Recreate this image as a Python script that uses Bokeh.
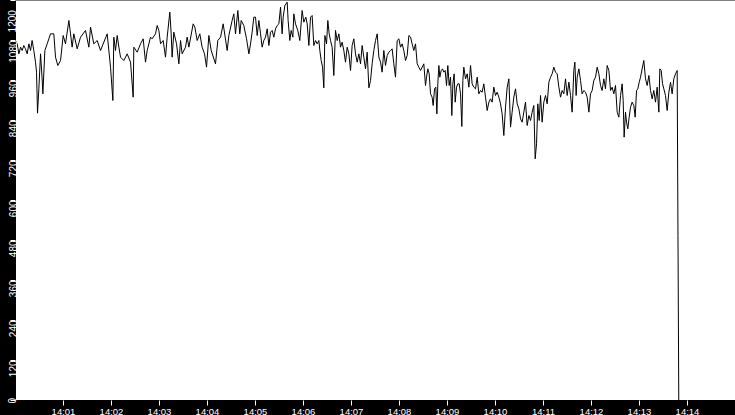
import pandas as pd
from math import pi
from bokeh.plotting import figure
from bokeh.models import (ColumnDataSource, Range1d, FixedTicker, GlobalInlineStyleSheet)
from bokeh.embed import file_html
from bokeh.resources import INLINE

# ---------------- data ----------------
start_time = "2024-01-01 14:00:00"
end_time = "2024-01-01 14:15:00"
x_tick_labels = ["14:01", "14:02", "14:03", "14:04", "14:05", "14:06", "14:07",
                 "14:08", "14:09", "14:10", "14:11", "14:12", "14:13", "14:14"]
y_ticks = [0, 120, 240, 360, 480, 600, 720, 840, 960, 1080, 1200]

# seconds after 14:00:00 and measured values
secs_a = [0, 2.1, 4.2, 6.3, 8.3, 10.4, 12.5, 14.6, 16.7, 18.8,
          20.8, 22.9, 25.0, 26.3, 27.5, 29.2, 31.3, 33.3, 34.2, 36.7,
          39.6, 43.8, 47.9, 50.0, 52.9, 56.3, 59.6, 62.5, 66.7, 68.8,
          70.8, 72.9, 77.1, 81.3, 87.5, 91.7, 93.8, 97.9, 102.1, 106.3,
          114.6, 118.8, 121.7, 122.9, 125.0, 127.1, 129.2, 131.3, 135.4, 139.6,
          143.8, 147.1, 147.9, 152.1, 156.3, 159.6, 162.5, 164.6, 168.8, 170.8,
          175.0, 177.1, 179.2, 181.3, 184.6, 187.5, 189.6, 192.9, 194.6, 195.8,
          197.9, 201.3, 204.2, 206.3, 208.3, 212.5, 214.6, 216.7, 222.1, 224.2,
          227.1, 230.4, 233.3, 236.3, 238.8, 241.7, 244.6, 250.0, 252.9, 256.3,
          259.6, 264.6, 266.7, 270.8, 272.9, 275.0, 277.9, 280.4, 282.1, 285.4,
          288.8, 291.7, 293.8]
vals_a = [1080, 1070, 1040, 1060, 1050, 1065, 1055, 1040, 1070, 1050,
          1080, 1050, 1015, 985, 862, 935, 1040, 965, 920, 1050,
          1070, 1100, 1100, 1030, 1005, 1020, 1095, 1070, 1140, 1100,
          1060, 1100, 1055, 1090, 1110, 1060, 1120, 1070, 1080, 1050,
          1100, 1000, 900, 1090, 1050, 1095, 1060, 1030, 1020, 1040,
          1015, 910, 1060, 1045, 1070, 1085, 1015, 1050, 1090, 1085,
          1100, 1125, 1110, 1070, 1080, 1030, 1090, 1165, 1100, 1030,
          1105, 1070, 1010, 1080, 1040, 1060, 1090, 1060, 1130, 1120,
          1080, 1100, 1060, 1040, 1000, 1095, 1050, 1010, 1080, 1090,
          1130, 1050, 1095, 1140, 1160, 1100, 1170, 1100, 1140, 1125,
          1085, 1040, 1070]

secs_b = [295.8, 297.9, 300.0, 302.1, 304.2, 306.3, 308.3, 310.4, 312.5, 314.6,
          316.7, 318.8, 320.8, 322.9, 325.0, 327.1, 329.2, 331.3, 333.3, 334.6,
          336.7, 339.6, 340.8, 342.9, 344.6, 346.7, 347.9, 350.0, 352.9, 355.4,
          358.3, 360.4, 362.9, 364.6, 366.7, 368.8, 370.8, 372.9, 375.0, 377.1,
          379.2, 380.4, 382.1, 383.8, 385.4, 386.7, 388.8, 390.4, 392.1, 393.8,
          395.8, 397.9, 400.0, 402.1, 404.2, 406.3, 408.3, 410.4, 412.5, 414.6,
          416.7, 418.8, 420.8, 422.9, 425.0, 427.1, 429.2, 431.3, 433.3, 435.4,
          437.5, 439.6, 441.7, 443.8, 445.8, 447.9, 450.0, 452.1, 454.2, 456.3,
          458.3, 460.4, 462.5, 464.6, 466.7, 468.8, 470.8, 472.9, 475.0, 477.1,
          479.2, 481.3, 483.3, 485.4, 487.5, 489.6, 491.7, 493.8, 495.8, 497.9,
          500.0, 502.1, 504.2, 506.3]
vals_b = [1105, 1150, 1150, 1095, 1140, 1100, 1060, 1080, 1090, 1115,
          1065, 1105, 1110, 1090, 1115, 1125, 1130, 1180, 1100, 1150,
          1185, 1195, 1140, 1080, 1110, 1090, 1160, 1130, 1110, 1080,
          1170, 1135, 1150, 1130, 1065, 1150, 1155, 1065, 1080, 1070,
          1080, 1050, 1020, 1000, 938, 1095, 1070, 1140, 1100, 1080,
          1060, 975, 1110, 1080, 1100, 1060, 1075, 1050, 1015, 1060,
          1040, 990, 1065, 1085, 1040, 1015, 1040, 1010, 1065, 1030,
          995, 1045, 938, 960, 1010, 1050, 1080, 1100, 1030, 1015,
          985, 1050, 1005, 1035, 1045, 1050, 1055, 1010, 970, 1080,
          1085, 1060, 1070, 1050, 1020, 1035, 1095, 1090, 1070, 1050,
          1070, 1010, 1000, 990]

secs_c = [510.4, 512.5, 513.8, 515.4, 517.1, 518.8, 520.8, 522.1, 523.8, 525.4,
          526.7, 527.9, 529.2, 530.4, 532.1, 533.8, 535.4, 537.1, 538.8, 540.4,
          542.1, 543.8, 545.4, 546.7, 548.3, 549.6, 551.3, 552.9, 554.6, 556.3,
          557.9, 559.2, 560.4, 562.5, 564.6, 566.7, 568.8, 570.8, 572.9, 575.0,
          577.1, 579.2, 581.3, 583.3, 585.4, 587.5, 589.6, 591.7, 593.8, 595.8,
          597.9, 600.0, 602.1, 604.2, 606.3, 608.3, 610.4, 612.5, 614.6, 616.7,
          618.8, 620.8, 622.9, 625.0, 627.1, 629.2, 631.3, 633.3, 635.4, 637.5,
          639.6, 641.7, 643.8, 645.8, 647.9, 649.6, 651.3, 652.9, 654.6, 656.3,
          658.3, 660.4, 662.5, 664.6, 666.7, 668.8, 670.8, 672.9, 675.0, 677.1,
          679.2, 681.3, 683.3, 685.4, 687.5, 689.6, 691.7, 693.8, 695.8, 697.9,
          699.2, 700.8, 702.1, 704.2, 706.3, 708.3, 710.4, 712.5, 714.6, 716.7,
          718.8]
vals_c = [1010, 945, 970, 995, 980, 920, 910, 885, 935, 940,
          860, 950, 1005, 970, 990, 995, 985, 990, 945, 1005,
          945, 970, 855, 950, 980, 895, 940, 950, 950, 920,
          822, 960, 1000, 965, 980, 940, 1005, 950, 940, 935,
          970, 920, 930, 925, 950, 910, 870, 895, 905, 895,
          940, 915, 925, 910, 890, 860, 795, 880, 940, 965,
          820, 865, 910, 935, 890, 875, 845, 835, 865, 895,
          825, 855, 840, 865, 885, 725, 770, 890, 840, 915,
          835, 895, 915, 890, 955, 970, 980, 1000, 985, 980,
          940, 910, 930, 920, 965, 915, 955, 915, 865, 990,
          1015, 915, 970, 995, 960, 920, 930, 925, 910, 865,
          920]

secs_d = [720.8, 722.9, 725.0, 727.1, 729.2, 731.3, 733.3, 735.4, 737.5, 739.6,
          741.7, 743.8, 745.8, 747.9, 750.0, 752.1, 754.2, 756.3, 758.3, 759.6,
          760.8, 762.5, 763.8, 765.4, 767.1, 768.8, 770.8, 772.9, 774.6, 776.3,
          777.9, 779.6, 781.3, 783.3, 785.4, 787.5, 789.6, 791.7, 793.8, 795.8,
          797.9, 800.0, 802.1, 804.2, 805.4, 807.1, 808.8, 810.4, 812.5, 814.6,
          816.7, 818.8, 820.8, 822.9, 825.0, 827.1, 828.1, 829.1]
vals_d = [930, 960, 970, 1000, 980, 945, 930, 965, 935, 1005,
          990, 930, 940, 920, 945, 865, 850, 915, 950, 900,
          790, 865, 835, 815, 850, 880, 895, 885, 850, 930,
          935, 955, 970, 995, 1020, 965, 945, 975, 930, 905,
          930, 895, 940, 865, 995, 990, 950, 935, 915, 870,
          925, 955, 920, 965, 980, 990, 495, 0]

secs = secs_a + secs_b + secs_c + secs_d
vals = vals_a + vals_b + vals_c + vals_d
assert len(secs) == len(vals)

# ---------------- plot ----------------
t0 = pd.Timestamp(start_time)
t1 = pd.Timestamp(end_time)
times = t0 + pd.to_timedelta(secs, unit="s")
src = ColumnDataSource(dict(t=times, v=vals))

p = figure(frame_width=720, frame_height=400, x_axis_type="datetime",
           x_range=Range1d(t0, t1), y_range=Range1d(0, 1200),
           output_backend="svg", toolbar_location=None, title=None,
           min_border_left=15, min_border_right=0, min_border_top=0, min_border_bottom=14,
           background_fill_color="white", border_fill_color="black",
           outline_line_color=None)
p.stylesheets = [GlobalInlineStyleSheet(
    css="html, body {margin:0; padding:0; overflow:hidden; background:#000;}")]

p.line("t", "v", source=src, line_color="black", line_width=1)

p.xgrid.visible = False
p.ygrid.visible = False

day = start_time.split(" ")[0]
x_ticks_ms = [pd.Timestamp(f"{day} {lab}:00").value // 10**6 for lab in x_tick_labels]
xa = p.xaxis[0]
xa.ticker = FixedTicker(ticks=x_ticks_ms)
xa.major_label_overrides = {ms: lab for ms, lab in zip(x_ticks_ms, x_tick_labels)}
xa.axis_line_color = "black"
xa.major_tick_line_color = "white"
xa.major_tick_out = 5
xa.major_tick_in = 0
xa.minor_tick_line_color = None
xa.major_label_text_color = "white"
xa.major_label_text_font = "Liberation Sans"
xa.major_label_text_font_size = "9.5px"
xa.major_label_standoff = 0

# y axis: white tick marks at the values (drawn as the ticker's minor ticks);
# rotated labels centred on the ticks but kept inside the plot's height
label_pos = list(y_ticks)
label_pos[0] = y_ticks[0] + 8          # "0" sits just above its tick
label_pos[-1] = y_ticks[-1] - 29       # "1200" hangs down from the top edge
ya = p.yaxis[0]
ya.ticker = FixedTicker(ticks=label_pos, minor_ticks=y_ticks)
ya.major_label_overrides = {pos: str(v) for pos, v in zip(label_pos, y_ticks)}
ya.major_label_orientation = pi / 2
ya.axis_line_color = "black"
ya.major_tick_line_color = None
ya.major_tick_out = 5
ya.major_tick_in = 0
ya.minor_tick_line_color = "white"
ya.minor_tick_out = 5
ya.minor_tick_in = 0
ya.major_label_text_color = "white"
ya.major_label_text_font = "Liberation Sans"
ya.major_label_text_font_size = "10px"
ya.major_label_standoff = -2

open("out.html", "w").write(file_html(p, INLINE))
